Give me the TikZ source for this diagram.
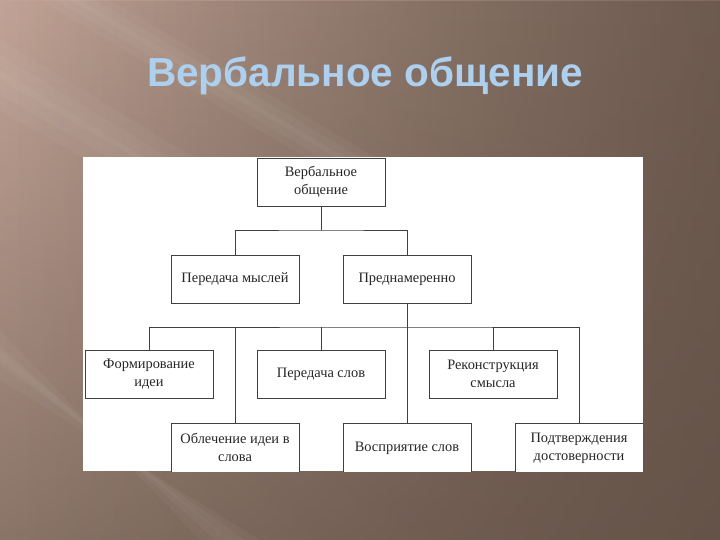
\documentclass[tikz,border=0pt]{standalone}
\usepackage{fontspec}
\setmainfont{Liberation Serif}
\newfontfamily\titlefont{Liberation Sans}
\usepackage{tikz}
\usetikzlibrary{fadings}

\definecolor{bgdark}{HTML}{5E4D43}
\definecolor{bglight}{HTML}{C2A597}
\definecolor{bgmid}{HTML}{7E695D}
\definecolor{titleblue}{HTML}{AED0EF}
\definecolor{boxline}{HTML}{404040}

\tikzset{
  schemebox/.style={draw=boxline, line width=0.9pt, fill=white, align=center,
    minimum width=128pt, minimum height=48pt, inner sep=2pt,
    font=\fontsize{14.4}{18}\selectfont, text=black!85},
  link/.style={draw=boxline, line width=0.8pt},
  streak/.style={fill=white, opacity=0.035}
}

\begin{document}
\begin{tikzpicture}[x=1pt, y=-1pt]
      \useasboundingbox (0,0) rectangle (720,540);
      % background of the slide
      \shade[left color=bglight, right color=bgmid] (0,0) rectangle (720,540);
      \fill[bgdark, path fading=north, opacity=0.55] (0,0) rectangle (720,540);
      \fill[bgdark, path fading=west, opacity=0.5] (0,0) rectangle (720,540);
      \foreach \w in {0, 15, 30} {
        \fill[streak] (40+\w,0) -- (110-\w,0) -- (430-\w,190) -- (360+\w,190) -- cycle;
        \fill[streak] (0,40+\w) -- (0,110-\w) -- (330,300-\w) -- (330,240+\w) -- cycle;
        \fill[streak] (0,330+\w) -- (0,380-\w) -- (260-\w,540) -- (200+\w,540) -- cycle;
      }

      \node[font=\titlefont\bfseries\fontsize{40.5}{46}\selectfont, text=titleblue, anchor=base] (title) at (365,87) {Вербальное общение};

      \fill[white] (83,157) rectangle (643,471);
      \begin{scope}
        \clip (83,157) rectangle (643,471);
        \node[schemebox] (top) at (321,182) {Вербальное\\общение};

        \node[schemebox] (mysli) at (235,279) {Передача мыслей};
        \node[schemebox] (prednam) at (407,279) {Преднамеренно};

        \node[schemebox] (formir) at (149,374) {Формирование\\идеи};
        \node[schemebox] (slov) at (321,374) {Передача слов};
        \node[schemebox] (rekon) at (493,374) {Реконструкция\\смысла};

        \node[schemebox, minimum height=52pt, text depth=4pt] (oblech) at (235,449) {Облечение идеи в\\слова};
        \node[schemebox, minimum height=52pt, text depth=4pt] (vospr) at (407,449) {Восприятие слов};
        \node[schemebox, minimum height=52pt, text depth=4pt] (podtv) at (579,449) {Подтверждения\\достоверности};
      \end{scope}

      \coordinate (bar1) at (321,230);
      \coordinate (bar2) at (407,327);

      \draw[link] (top.south) -- (bar1);
      \draw[link] (mysli.north) |- (bar1) -| (prednam.north);

      \draw[link] (prednam.south) -- (vospr.north);
      \draw[link] (formir.north) |- (bar2) -| (podtv.north);
      \foreach \n in {oblech, slov, rekon} {
        \draw[link] (\n.north) -- (\n.north |- bar2);
      }
    \end{tikzpicture}
\end{document}
